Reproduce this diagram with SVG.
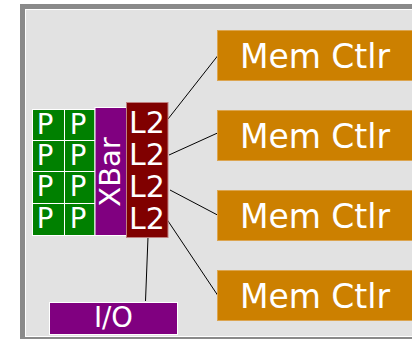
<svg xmlns="http://www.w3.org/2000/svg" width="412" height="339" viewBox="0 0 412 339">
<style>
text{font-family:"DejaVu Sans","Liberation Sans",sans-serif;fill:#fff;text-anchor:middle}
.p{fill:#008000;stroke:#fff;stroke-width:1}
.pt{font-size:27.5px}
.xbar{fill:#800080;stroke:#fff;stroke-width:1}
.l2{fill:#800000;stroke:#c08080;stroke-width:1}
.l2t{font-size:30px}
.mem{fill:#cc8000;stroke:#dca550;stroke-width:1}
.memt{font-size:33px}
.io{fill:#800080;stroke:#fff;stroke-width:1}
.conn line{stroke:#000;stroke-width:1}
</style>
<rect width="412" height="339" fill="#fff"/>
<rect x="22.5" y="6.5" width="420" height="333" fill="#e2e2e2" stroke="#8a8a8a" stroke-width="5"/>
<rect x="25.5" y="9.5" width="420" height="327" fill="none" stroke="#fff" stroke-width="1"/>
<g id="connectors" class="conn">
<line x1="168" y1="119" x2="217.5" y2="56"/>
<line x1="169" y1="155" x2="217.5" y2="133"/>
<line x1="170" y1="190" x2="217.5" y2="215"/>
<line x1="166" y1="218" x2="217.5" y2="295"/>
<line x1="148" y1="237" x2="145.5" y2="301"/>
</g>
<g id="procs">
<g id="p11"><rect class="p" x="32.5" y="109.5" width="32" height="31"/><text class="pt" x="45" y="133.5">P</text></g>
<g id="p12"><rect class="p" x="64.5" y="109.5" width="30.5" height="31"/><text class="pt" x="78" y="133.5">P</text></g>
<g id="p21"><rect class="p" x="32.5" y="140.5" width="32" height="31"/><text class="pt" x="45" y="164.5">P</text></g>
<g id="p22"><rect class="p" x="64.5" y="140.5" width="30.5" height="31"/><text class="pt" x="78" y="164.5">P</text></g>
<g id="p31"><rect class="p" x="32.5" y="171.5" width="32" height="32"/><text class="pt" x="45" y="196">P</text></g>
<g id="p32"><rect class="p" x="64.5" y="171.5" width="30.5" height="32"/><text class="pt" x="78" y="196">P</text></g>
<g id="p41"><rect class="p" x="32.5" y="203.5" width="32" height="32"/><text class="pt" x="45" y="228">P</text></g>
<g id="p42"><rect class="p" x="64.5" y="203.5" width="30.5" height="32"/><text class="pt" x="78" y="228">P</text></g>
</g>
<g id="xbar"><rect class="xbar" x="95" y="107.5" width="31.5" height="128"/><text transform="translate(119.5,172) rotate(-90)" font-size="29px">XBar</text></g>
<g id="l2"><rect class="l2" x="126.5" y="102.5" width="41.5" height="135"/>
<text class="l2t" x="147" y="133">L2</text>
<text class="l2t" x="147" y="165">L2</text>
<text class="l2t" x="147" y="197">L2</text>
<text class="l2t" x="147" y="229">L2</text>
</g>
<g id="mem1"><rect class="mem" x="217.5" y="30.5" width="196" height="50"/><text class="memt" x="315" y="68.3">Mem Ctlr</text></g>
<g id="mem2"><rect class="mem" x="217.5" y="110.5" width="196" height="50"/><text class="memt" x="315" y="148.3">Mem Ctlr</text></g>
<g id="mem3"><rect class="mem" x="217.5" y="190.5" width="196" height="50"/><text class="memt" x="315" y="228.3">Mem Ctlr</text></g>
<g id="mem4"><rect class="mem" x="217.5" y="270.5" width="196" height="50"/><text class="memt" x="315" y="308.3">Mem Ctlr</text></g>
<g id="io"><rect class="io" x="49.5" y="302.5" width="128" height="32"/><text x="113.5" y="326.7" font-size="27.5px">I/O</text></g>
</svg>
